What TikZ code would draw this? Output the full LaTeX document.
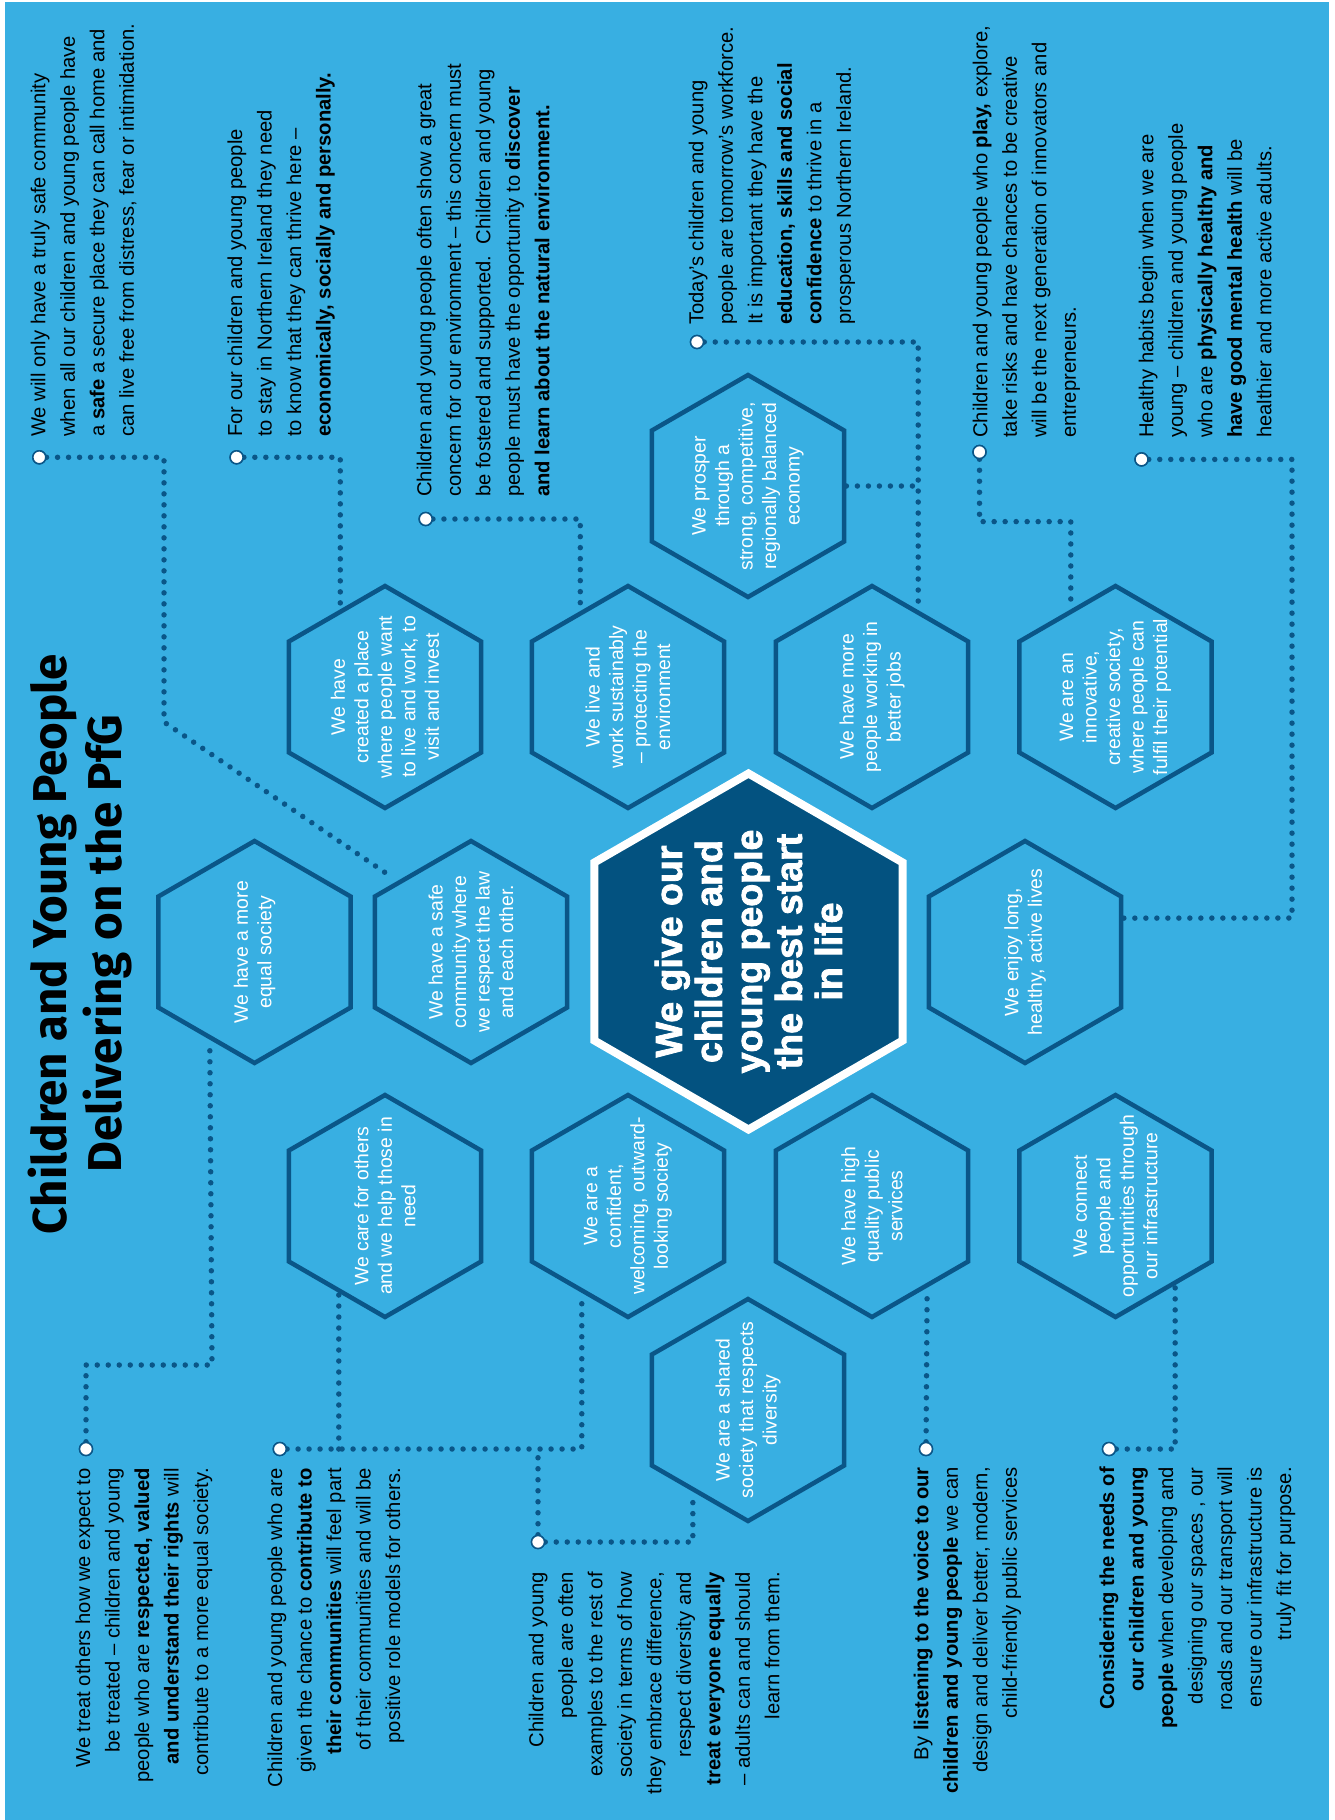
\documentclass[tikz,border=0pt]{standalone}
\usepackage{fontspec}
\setmainfont{Liberation Sans}
\newfontfamily\titlefont{Fira Sans}
\newfontfamily\heavyfont[FakeBold=2.2]{Liberation Sans Bold}
\usetikzlibrary{shapes.geometric,calc}
\definecolor{bg}{RGB}{56,175,226}
\definecolor{navy}{RGB}{10,86,136}
\definecolor{core}{RGB}{3,82,128}
\begin{document}
\begin{tikzpicture}[x=1pt,y=-1pt,
  hexa/.style={regular polygon, regular polygon sides=6, shape border rotate=30,
    minimum size=222pt, inner sep=0pt, draw=navy, line width=4.5pt},
  corehex/.style={regular polygon, regular polygon sides=6, shape border rotate=30,
    minimum size=356pt, inner sep=0pt, draw=white, fill=core, line width=8pt},
  hextext/.style={rotate=90, align=center, text=white, inner sep=0pt,
    font=\fontsize{19.4}{23.5}\selectfont},
  coretext/.style={rotate=90, align=center, text=white, inner sep=0pt,
    font=\heavyfont\fontsize{37.5}{40}\selectfont},
  body/.style={rotate=90, inner sep=0pt, text=black,
    font=\fontsize{20.2}{29.5}\selectfont},
  toptext/.style={body, anchor=north west, align=left},
  bottext/.style={body, anchor=north east, align=right},
  dots/.style={draw=navy, line width=5.5pt, line cap=round, dash pattern=on 0pt off 11pt},
  dotend/.style={circle, draw=navy, fill=white, line width=1.5pt, minimum size=13pt, inner sep=0pt},
  titletext/.style={rotate=90, anchor=base, inner sep=0pt, text=black,
    font=\titlefont\bfseries\fontsize{47.5}{55}\selectfont}
]
\useasboundingbox (0,0) rectangle (1335,1820);
\fill[white] (0,0) rectangle (1335,1820);
\fill[bg] (5,2) rectangle (1329,1820);

% hexagons
\node[corehex] (core) at (748.5,951.5) {};
\node[hexa] (prosper) at (748,486) {};
\node[hexa] (created) at (385,697) {};
\node[hexa] (live) at (628,697) {};
\node[hexa] (more) at (872,697) {};
\node[hexa] (innov) at (1115.5,697) {};
\node[hexa] (equal) at (254.5,952) {};
\node[hexa] (safe) at (471,952) {};
\node[hexa] (enjoy) at (1025,952) {};
\node[hexa] (care) at (385,1206) {};
\node[hexa] (confident) at (628,1206) {};
\node[hexa] (quality) at (872,1206) {};
\node[hexa] (connect) at (1115.5,1206) {};
\node[hexa] (shared) at (748,1410) {};

% circle ends
\node[dotend] (c1) at (39.3,457.3) {};
\node[dotend] (c2) at (236.6,457.3) {};
\node[dotend] (c3) at (425.7,519) {};
\node[dotend] (c4) at (697,342) {};
\node[dotend] (c5) at (979.5,452) {};
\node[dotend] (c6) at (1141.5,459.4) {};
\node[dotend] (c7) at (86,1449) {};
\node[dotend] (c8) at (279.8,1449) {};
\node[dotend] (c9) at (538,1542) {};
\node[dotend] (c10) at (926,1449) {};
\node[dotend] (c11) at (1109,1449) {};

\coordinate (b1a) at (164,457.3);
\coordinate (b1b) at (164,722);
\coordinate (b5) at (979.5,521.6);
\coordinate (b6) at (1292,918);
\coordinate (b7) at (212,1365);

% connectors
\draw[dots, shorten >=6pt] (c1) -- (b1a) -- (b1b) -- (safe.136.7);
\draw[dots] (c2) -| (created.117.9);
\draw[dots] (c3) -| (live.119.3);
\draw[dots] (c4) -| (more.62.1);
\draw[dots] (prosper.east) -- (prosper.east -| more.62.1);
\draw[dots] (c5) -- (b5) -| (innov.117.5);
\draw[dots] (c6) -| (b6) -- (enjoy.19.5);
\draw[dots] (c7) |- (b7) -- (equal.243.8);
\draw[dots] (c8) -| (confident.242.5);
\draw[dots] (care.242.1 |- c8) -- (care.242.1);
\draw[dots] (c9) -- (c9 |- c8);
\draw[dots] (c9) -| (shared.236.6);
\draw[dots] (c10) -- (quality.304.1);
\draw[dots] (c11) -| (connect.307.5);

% circles on top of the dotted lines
\foreach \c in {c1,c2,c3,c4,c5,c6,c7,c8,c9,c10,c11}
  \draw[navy, fill=white, line width=1.5pt] (\c) circle (6.5pt);

% hex texts
\node[coretext] (tcore) at (core) {We give our\\children and\\young people\\the best start\\in life};
\node[hextext] (tprosper) at (prosper) {We prosper\\through a\\strong, competitive,\\regionally balanced\\economy};
\node[hextext] (tcreated) at (created) {We have\\created a place\\where people want\\to live and work, to\\visit and invest};
\node[hextext] (tlive) at (live) {We live and\\work sustainably\\-- protecting the\\environment};
\node[hextext] (tmore) at (more) {We have more\\people working in\\better jobs};
\node[hextext] (tinnov) at (innov) {We are an\\innovative,\\creative society,\\where people can\\fulfil their potential};
\node[hextext] (tequal) at (equal) {We have a more\\equal society};
\node[hextext] (tsafe) at (safe) {We have a safe\\community where\\we respect the law\\and each other.};
\node[hextext] (tenjoy) at (enjoy) {We enjoy long,\\healthy, active lives};
\node[hextext] (tcare) at (care) {We care for others\\and we help those in\\need};
\node[hextext] (tconf) at (confident) {We are a\\confident,\\welcoming, outward-\\looking society};
\node[hextext] (tqual) at (quality) {We have high\\quality public\\services};
\node[hextext] (tconn) at (connect) {We connect\\people and\\opportunities through\\our infrastructure};
\node[hextext] (tshared) at (shared) {We are a shared\\society that respects\\diversity};

% title
\node[titletext] (title1) at (66,944) {Children and Young People};
\node[titletext] (title2) at (121,944) {Delivering on the PfG};

% top text blocks
\node[toptext] (t1) at (30.6,437) {We will only have a truly safe community\\when all our children and young people have\\a \textbf{safe} a secure place they can call home and\\can live free from distress, fear or intimidation.};
\node[toptext] (t2) at (227.2,437) {For our children and young people\\to stay in Northern Ireland they need\\to know that they can thrive here --\\\textbf{economically, socially and personally.}};
\node[toptext] (t3) at (416.6,497) {Children and young people often show a great\\concern for our environment -- this concern must\\be fostered and supported.\ \ Children and young\\people must have the opportunity to \textbf{discover}\\\textbf{and learn about the natural environment.}};
\node[toptext] (t4) at (688.6,325) {Today's children and young\\people are tomorrow's workforce.\\It is important they have the\\\textbf{education, skills and social}\\\textbf{confidence} to thrive in a\\prosperous Northern Ireland.};
\node[toptext] (t5) at (972.6,438) {Children and young people who \textbf{play,} explore,\\take risks and have chances to be creative\\will be the next generation of innovators and\\entrepreneurs.};
\node[toptext] (t6) at (1138.6,438) {Healthy habits begin when we are\\young -- children and young people\\who are \textbf{physically healthy and}\\\textbf{have good mental health} will be\\healthier and more active adults.};

% bottom text blocks
\node[bottext] (t7) at (75.4,1468) {We treat others how we expect to\\be treated -- children and young\\people who are \textbf{respected, valued}\\\textbf{and understand their rights} will\\contribute to a more equal society.};
\node[bottext] (t8) at (267.4,1468) {Children and young people who are\\given the chance to \textbf{contribute to}\\\textbf{their communities} will feel part\\of their communities and will be\\positive role models for others.};
\node[bottext] (t9) at (528.6,1572) {Children and young\\people are often\\examples to the rest of\\society in terms of how\\they embrace difference,\\respect diversity and\\\textbf{treat everyone equally}\\-- adults can and should\\learn from them.};
\node[bottext] (t10) at (913.6,1467) {By \textbf{listening to the voice to our}\\\textbf{children and young people} we can\\design and deliver better, modern,\\child-friendly public services};
\node[bottext] (t11) at (1099.3,1467) {\textbf{Considering the needs of}\\\textbf{our children and young}\\\textbf{people} when developing and\\designing our spaces , our\\roads and our transport will\\ensure our infrastructure is\\truly fit for purpose.};
\end{tikzpicture}
\end{document}
